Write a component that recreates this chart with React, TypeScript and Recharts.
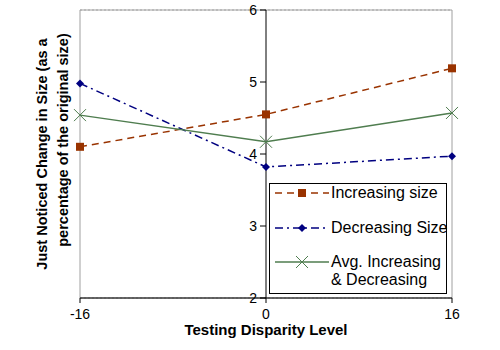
import {
  LineChart,
  Line,
  XAxis,
  YAxis,
  CartesianGrid,
  ReferenceLine,
  ReferenceArea,
  ReferenceDot,
  Legend,
  Label,
} from 'recharts';

// Values
const disparityLevels = [-16, 0, 16];
const increasingSize = [4.1, 4.55, 5.19];
const decreasingSize = [4.98, 3.82, 3.97];
const avgIncDec = [4.54, 4.17, 4.57];
const yTicks = [2, 3, 4, 5, 6];

const FONT = '"Liberation Sans", Arial, sans-serif';
const BROWN = '#993300';
const NAVY = '#000080';
const GREEN = '#4f7d4f';

const data = disparityLevels.map((x, i) => ({
  x,
  inc: increasingSize[i],
  dec: decreasingSize[i],
  avg: avgIncDec[i],
}));

// marker shapes
const Square = ({ cx, cy, size = 4 }: any) => (
  <rect x={cx - size} y={cy - size} width={size * 2} height={size * 2} fill={BROWN} />
);
const Diamond = ({ cx, cy, size = 4 }: any) => (
  <polygon
    points={`${cx},${cy - size} ${cx + size},${cy} ${cx},${cy + size} ${cx - size},${cy}`}
    fill={NAVY}
  />
);
const Cross = ({ cx, cy, size = 6 }: any) => (
  <g stroke={GREEN} strokeWidth={1}>
    <line x1={cx - size} y1={cy - size} x2={cx + size} y2={cy + size} />
    <line x1={cx - size} y1={cy + size} x2={cx + size} y2={cy - size} />
  </g>
);

const series = [
  { key: 'inc', name: 'Increasing size', color: BROWN, dash: '7 5', Marker: Square },
  { key: 'dec', name: 'Decreasing Size', color: NAVY, dash: '8 4 2 4', Marker: Diamond },
  { key: 'avg', name: 'Avg. Increasing & Decreasing', color: GREEN, dash: undefined, Marker: Cross },
];

const LegendBox = () => {
  const rows = [
    { s: series[0], top: 10, lines: ['Increasing size'] },
    { s: series[1], top: 45, lines: ['Decreasing Size'] },
    { s: series[2], top: 79, lines: ['Avg. Increasing', '& Decreasing'] },
  ];
  return (
    <div
      style={{
        position: 'relative',
        width: 178,
        height: 111,
        boxSizing: 'border-box',
        border: '1px solid #000',
        background: '#fff',
        fontFamily: FONT,
        fontSize: 16,
        color: '#000',
      }}
    >
      {rows.map(({ s, top, lines }) => (
        <div key={s.key}>
          <svg
            width={54}
            height={16}
            style={{ position: 'absolute', left: 5, top: top - 9 }}
          >
            <line
              x1={0}
              y1={8}
              x2={54}
              y2={8}
              stroke={s.color}
              strokeWidth={1.5}
              strokeDasharray={s.dash}
            />
            <s.Marker cx={27} cy={8} />
          </svg>
          {lines.map((t, i) => (
            <div
              key={t}
              style={{
                position: 'absolute',
                left: 61,
                top: top - 10 + i * 18,
                lineHeight: '18px',
                whiteSpace: 'nowrap',
              }}
            >
              {t}
            </div>
          ))}
        </div>
      ))}
    </div>
  );
};

export default function App() {
  return (
    <div style={{ position: 'absolute', left: 0, top: 0, background: '#fff' }}>
      <LineChart
        width={500}
        height={350}
        data={data}
        margin={{ top: 10, right: 48, bottom: 12, left: 0 }}
      >
        <CartesianGrid vertical={false} stroke="#aaaaaa" strokeDasharray="2 2" />
        <ReferenceArea x1={-16} x2={16} y1={2} y2={6} fill="none" stroke="#a0a0a0" />
        <XAxis
          dataKey="x"
          type="number"
          domain={[-16, 16]}
          ticks={disparityLevels}
          height={40}
          axisLine={{ stroke: '#000' }}
          tickLine={{ stroke: '#000' }}
          tickSize={5}
          tickMargin={6}
          tick={{ fill: '#000', fontSize: 14, fontFamily: FONT }}
        >
          <Label
            value="Testing Disparity Level"
            position="insideBottom"
            offset={3}
            style={{ fontFamily: FONT, fontSize: 15, fontWeight: 'bold', fill: '#000' }}
          />
        </XAxis>
        <YAxis
          type="number"
          domain={[2, 6]}
          ticks={yTicks}
          width={80}
          axisLine={false}
          tickLine={false}
          tick={false}
          label={{
            content: () => (
              <g style={{ fontFamily: FONT, fontSize: 14.5, fontWeight: 'bold' }} fill="#000">
                <text x={42} y={154} textAnchor="middle" dominantBaseline="central" transform="rotate(-90 42 154)">
                  Just Noticed Change in Size (as a
                </text>
                <text x={63} y={140} textAnchor="middle" dominantBaseline="central" transform="rotate(-90 63 140)">
                  percentage of the original size)
                </text>
              </g>
            ),
          }}
        />
        <ReferenceLine x={0} stroke="#000" strokeWidth={1} />
        {yTicks.map((v) => (
          <ReferenceDot
            key={v}
            x={0}
            y={v}
            shape={(p: any) => (
              <g>
                <line x1={p.cx - 6} y1={p.cy} x2={p.cx} y2={p.cy} stroke="#000" />
                <text
                  x={p.cx - 9}
                  y={p.cy}
                  textAnchor="end"
                  dominantBaseline="central"
                  fontFamily={FONT}
                  fontSize={14}
                  fill="#000"
                >
                  {v}
                </text>
              </g>
            )}
          />
        ))}
        {series.map((s) => (
          <Line
            key={s.key}
            dataKey={s.key}
            name={s.name}
            type="linear"
            stroke={s.color}
            strokeWidth={1.5}
            strokeDasharray={s.dash}
            isAnimationActive={false}
            dot={(p: any) => <s.Marker key={`${s.key}-${p.index}`} cx={p.cx} cy={p.cy} />}
            activeDot={false}
          />
        ))}
        <Legend
          layout="vertical"
          align="center"
          verticalAlign="middle"
          wrapperStyle={{ left: 269, top: 183, width: 178, height: 111 }}
          content={() => <LegendBox />}
        />
      </LineChart>
    </div>
  );
}
